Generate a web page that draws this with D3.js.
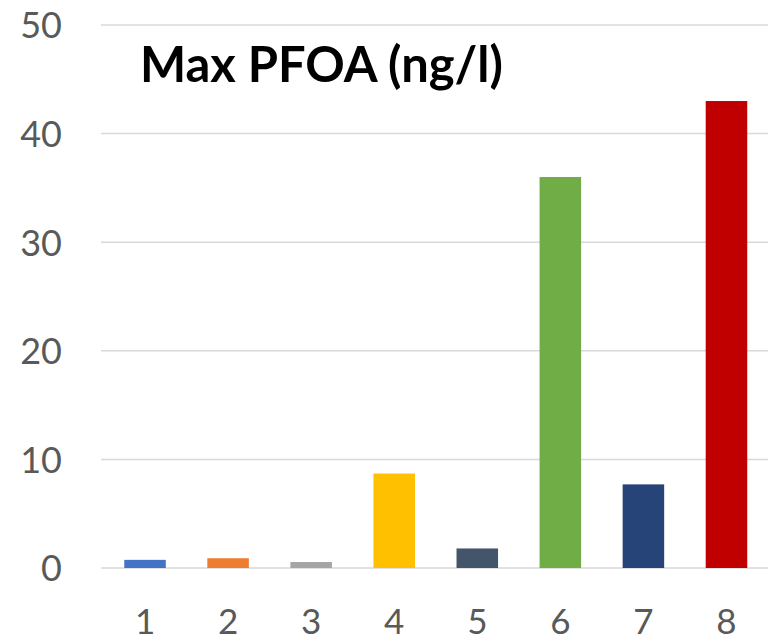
<!DOCTYPE html>
<html><head><meta charset="utf-8">
<script src="https://cdn.jsdelivr.net/npm/d3@7"></script>
<style>body{margin:0;background:#fff}svg{display:block}</style>
</head><body>
<script>
const categories = ["1","2","3","4","5","6","7","8"];
const values = [0.75, 0.9, 0.55, 8.7, 1.8, 36.0, 7.7, 43.0];
const colors = ["#4472C4","#ED7D31","#A5A5A5","#FFC000","#44546A","#70AD47","#264478","#C00000"];
const yTicks = [0,10,20,30,40,50];
const title = "Max PFOA (ng/l)";

const W = 777, H = 643;
const svg = d3.select("body").append("svg").attr("width", W).attr("height", H);
const font = "Lato, 'Open Sans', sans-serif";

const x = d3.scaleBand().domain(categories).range([103.5, 768]).paddingInner(0.5).paddingOuter(0.25);
const y = d3.scaleLinear().domain([0, 50]).range([568, 25]);

// gridlines
svg.append("g").selectAll("line").data(yTicks).join("line")
  .attr("x1", 101).attr("x2", 768)
  .attr("y1", d => y(d)).attr("y2", d => y(d))
  .attr("stroke", "#D9D9D9").attr("stroke-width", 1.5);

// bars
svg.append("g").selectAll("rect").data(values).join("rect")
  .attr("x", (d, i) => x(categories[i]))
  .attr("width", x.bandwidth())
  .attr("y", d => y(d))
  .attr("height", d => y(0) - y(d))
  .attr("fill", (d, i) => colors[i]);

// y axis
const yAxis = svg.append("g").attr("transform", "translate(62,0)")
  .call(d3.axisLeft(y).tickValues(yTicks).tickSize(0).tickPadding(0));
yAxis.select(".domain").remove();
yAxis.selectAll("text").attr("font-family", font).attr("font-size", 36).attr("fill", "#595959").attr("dy", "0.36em");

// x axis
const xAxis = svg.append("g").attr("transform", "translate(0,634)")
  .call(d3.axisBottom(x).tickSize(0).tickPadding(0));
xAxis.select(".domain").remove();
xAxis.selectAll("text").attr("font-family", font).attr("font-size", 35).attr("fill", "#595959").attr("y", 0).attr("dy", 0);

// title
const t = svg.append("text").attr("x", 140).attr("y", 82)
  .attr("font-family", font).attr("font-weight", "bold").attr("font-size", 44).attr("fill", "#000")
  .text(title);
const len = t.node().getComputedTextLength();
t.attr("font-size", 44 * 363 / len);
</script>
</body></html>
